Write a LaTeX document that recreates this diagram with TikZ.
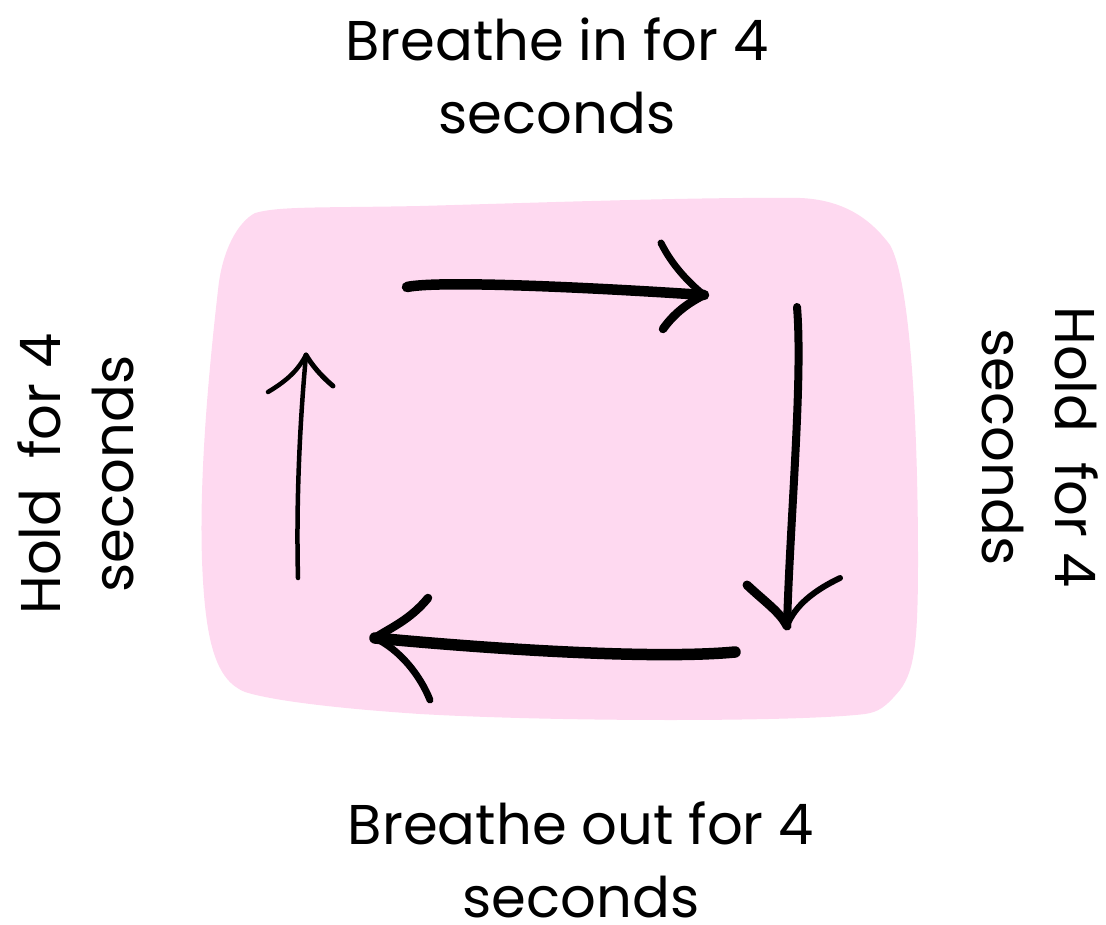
\documentclass[tikz,border=0pt]{standalone}
\usepackage{fontspec}
\setmainfont{Poppins}
\definecolor{blobpink}{HTML}{FED9F0}
\tikzset{
  label/.style={font=\fontsize{56}{73}\selectfont, align=center, inner sep=0pt, text=black},
  brush/.style={line width=#1, line cap=round, line join=round, draw=black},
}
\begin{document}
\begin{tikzpicture}[x=1pt, y=-1pt]
\useasboundingbox (0,0) rectangle (1106,925);
% soft pink patch behind the cycle
\fill[blobpink] (255,213) .. controls (280,206) and (320,208) .. (420,206)
  .. controls (560,202) and (700,197) .. (800,198)
  .. controls (850,200) and (875,225) .. (890,245)
  .. controls (910,280) and (918,420) .. (918,560)
  .. controls (918,640) and (915,670) .. (900,690)
  .. controls (885,708) and (878,712) .. (865,714)
  .. controls (800,722) and (560,722) .. (420,714)
  .. controls (330,708) and (270,700) .. (245,692)
  .. controls (215,680) and (205,640) .. (202,560)
  .. controls (199,470) and (210,360) .. (218,290)
  .. controls (222,250) and (238,222) .. (255,213) -- cycle;

% top: breathe in
\coordinate (t1) at (407,287);
\coordinate (t2) at (704,295);
\coordinate (tu) at (661,243);
\coordinate (tl) at (663,329);
\draw[brush=10.5pt] (t1) .. controls (440,280) and (600,288) .. (t2);
\draw[brush=7pt] (tu) .. controls (672,265) and (688,282) .. (t2);
\draw[brush=8.5pt] (tl) .. controls (675,312) and (690,302) .. (t2);

% right: hold
\coordinate (r1) at (797,307);
\coordinate (r2) at (787,626);
\coordinate (rl) at (747,585);
\coordinate (rr) at (840,578);
\draw[brush=8pt] (r1) .. controls (803,380) and (790,520) .. (r2);
\draw[brush=9pt] (rl) .. controls (765,602) and (780,612) .. (r2);
\draw[brush=6pt] (rr) .. controls (815,590) and (795,605) .. (r2);

% bottom: breathe out
\coordinate (b1) at (735,652);
\coordinate (b2) at (375,638);
\coordinate (bu) at (428,598);
\coordinate (bl) at (430,700);
\draw[brush=11.5pt] (b1) .. controls (650,660) and (480,648) .. (b2);
\draw[brush=8.5pt] (bu) .. controls (410,620) and (390,628) .. (b2);
\draw[brush=7pt] (bl) .. controls (420,675) and (400,650) .. (b2);

% left: hold
\coordinate (l1) at (298,578);
\coordinate (l2) at (306,355);
\coordinate (ll) at (268,392);
\coordinate (lr) at (333,386);
\draw[brush=4.5pt] (l1) .. controls (296,500) and (300,420) .. (l2);
\draw[brush=4.5pt] (ll) .. controls (288,380) and (298,370) .. (l2);
\draw[brush=5pt] (lr) .. controls (320,375) and (312,365) .. (l2);

% labels
\node[label] (inhale) at (557,76) {Breathe in for 4\\seconds};
\node[label] (exhale) at (581,860) {Breathe out for 4\\seconds};
\node[label, rotate=90] (holdleft) at (76,474) {Hold\ \ for 4\\seconds};
\node[label, rotate=-90] (holdright) at (1040,447) {Hold\ \ for 4\\seconds};
\end{tikzpicture}
\end{document}
